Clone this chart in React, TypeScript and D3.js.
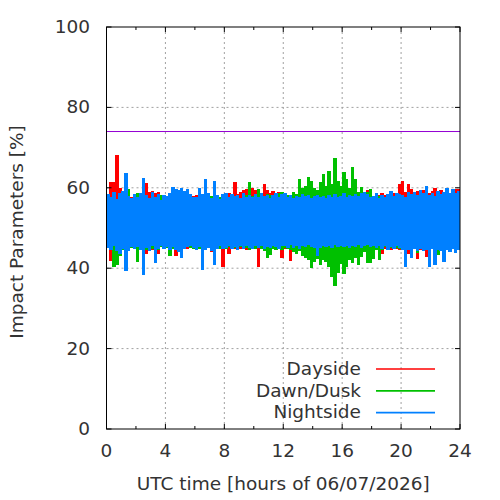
import React from "react";
import * as d3 from "d3";

const xTicks = [0, 4, 8, 12, 16, 20, 24];
const xMinor = [2, 6, 10, 14, 18, 22];
const yTicks = [0, 20, 40, 60, 80, 100];
const threshold = 74;
const binHours = 0.2;

const seriesNames = ["Dayside", "Dawn/Dusk", "Nightside"];
const seriesColors = ["#ff0000", "#00c000", "#0080ff"];

const dayHi = [
  58.0, 61.4, 61.4, 68.2, 60.0, 57.5, 58.2, 57.0, 57.8, 58.5,
  57.6, 58.0, 57.4, 61.3, 59.0, 59.2, 58.8, 59.0, 57.5, 58.2,
  57.0, 58.3, 57.6, 58.0, 57.2, 57.8, 58.4, 57.5, 56.8, 57.9,
  58.2, 57.5, 58.0, 57.4, 58.3, 57.8, 57.2, 58.0, 57.6, 58.5,
  57.9, 58.6, 58.0, 61.5, 58.4, 58.9, 59.5, 59.8, 59.2, 60.0,
  59.4, 59.8, 58.8, 61.0, 59.5, 58.6, 59.2, 58.5, 59.0, 58.2,
  58.0, 57.5, 58.2, 57.8, 58.4, 57.6, 58.0, 58.0, 61.0, 57.6,
  58.0, 57.5, 58.3, 57.8, 58.1, 57.4, 58.0, 57.7, 58.2, 57.6,
  57.9, 58.2, 57.7, 58.4, 58.3, 59.0, 58.5, 58.0, 59.5, 58.4,
  58.0, 57.7, 58.3, 58.8, 58.1, 57.6, 58.2, 58.6, 57.9, 61.0,
  61.6, 59.0, 61.0, 59.8, 58.5, 59.2, 58.8, 59.4, 60.3, 58.7,
  59.2, 60.0, 58.6, 59.4, 58.9, 59.6, 58.8, 59.3, 59.8, 59.8,
];
const dayLo = [
  45.0, 41.9, 43.0, 43.2, 45.0, 44.6, 45.3, 44.8, 45.5, 44.9,
  45.2, 44.7, 45.4, 43.5, 45.0, 44.6, 43.0, 43.5, 45.2, 44.8,
  45.4, 44.9, 45.3, 43.0, 45.1, 44.7, 45.4, 44.9, 45.5, 45.0,
  45.3, 44.8, 45.5, 44.6, 45.2, 44.0, 45.4, 44.9, 45.3, 40.4,
  45.0, 43.6, 45.2, 44.7, 45.3, 44.8, 45.0, 44.6, 45.2, 44.7,
  45.1, 40.2, 45.0, 44.4, 45.2, 44.8, 45.3, 44.6, 45.0, 42.5,
  44.8, 45.2, 41.9, 44.9, 45.3, 44.7, 45.1, 44.6, 45.0, 44.8,
  45.2, 44.9, 45.3, 44.7, 45.1, 44.8, 45.4, 44.6, 45.2, 44.9,
  45.3, 44.8, 45.1, 44.6, 45.2, 44.9, 45.0, 44.7, 42.5, 44.9,
  45.2, 44.7, 45.1, 43.5, 44.9, 45.3, 44.6, 45.0, 44.8, 44.5,
  44.9, 44.6, 43.5, 42.7, 44.8, 42.3, 44.6, 44.9, 42.7, 44.5,
  44.8, 44.0, 44.6, 44.3, 44.9, 44.5, 44.7, 45.0, 44.4, 44.6,
];

const duskHi = [
  58.1, 57.0, 57.6, 56.8, 58.0, 57.4, 57.8, 59.6, 57.2, 57.9,
  58.8, 58.8, 57.5, 58.0, 57.3, 57.8, 57.1, 57.6, 58.2, 57.4,
  57.8, 57.2, 57.9, 57.5, 57.8, 57.3, 58.0, 57.6, 57.1, 57.8,
  57.4, 57.9, 57.2, 57.7, 57.5, 58.0, 57.3, 57.6, 57.8, 57.2,
  57.7, 57.3, 58.0, 57.6, 57.9, 57.4, 57.8, 58.2, 61.4, 57.9,
  58.3, 59.6, 58.0, 57.7, 58.4, 58.1, 57.6, 58.2, 58.8, 59.0,
  57.8, 58.2, 58.1, 59.0, 58.5, 62.2, 60.0, 60.5, 62.6, 61.8,
  60.0, 59.5, 61.4, 63.5, 60.5, 64.3, 61.0, 67.4, 61.8, 60.5,
  63.9, 62.2, 60.0, 65.1, 62.2, 59.0, 60.1, 58.5, 59.0, 59.6,
  58.0, 57.6, 57.9, 57.3, 57.8, 57.5, 58.1, 57.4, 57.9, 57.6,
  57.8, 57.3, 57.9, 57.5, 58.0, 57.6, 57.8, 57.4, 57.9, 58.3,
  57.7, 58.0, 57.5, 57.8, 57.6, 58.1, 57.4, 57.9, 57.6, 57.8,
];
const duskLo = [
  46.8, 44.5, 40.2, 40.8, 43.0, 44.6, 45.2, 44.4, 45.0, 44.7,
  41.6, 44.9, 45.2, 44.6, 45.3, 44.8, 45.0, 44.5, 45.2, 44.9,
  45.1, 43.0, 44.8, 45.3, 44.7, 45.2, 44.9, 45.4, 45.0, 44.8,
  45.3, 44.9, 45.1, 44.6, 45.2, 44.8, 45.3, 45.0, 44.7, 45.2,
  44.9, 45.3, 44.7, 45.1, 44.8, 45.2, 44.9, 45.0, 44.6, 45.2,
  44.8, 45.0, 44.7, 44.4, 42.6, 43.3, 44.8, 44.5, 45.0, 44.6,
  45.0, 44.7, 44.5, 44.0, 43.6, 44.2, 43.0, 42.5, 42.0, 40.0,
  41.6, 42.2, 40.8, 42.0, 41.5, 40.4, 37.9, 35.5, 38.7, 41.0,
  38.5, 40.4, 42.0, 41.2, 42.5, 40.8, 42.9, 44.0, 41.2, 41.2,
  42.4, 44.5, 42.0, 44.6, 45.2, 44.8, 45.0, 44.7, 45.1, 44.8,
  45.0, 44.7, 45.2, 44.9, 45.3, 43.8, 45.0, 44.6, 45.2, 44.9,
  44.8, 45.1, 43.3, 44.7, 45.0, 44.6, 45.2, 44.8, 45.5, 44.9,
];

const nightHi = [
  58.5, 57.8, 59.0, 57.2, 58.6, 59.2, 63.7, 58.0, 57.5, 58.4,
  57.6, 58.8, 62.5, 58.2, 57.4, 58.9, 57.8, 58.5, 57.0, 58.3,
  57.9, 58.6, 60.3, 59.8, 59.5, 60.0, 59.2, 59.7, 58.4, 57.6,
  57.8, 60.0, 58.4, 62.2, 58.6, 57.5, 61.8, 58.2, 57.3, 58.4,
  58.8, 57.6, 58.5, 57.9, 58.2, 57.4, 58.7, 57.8, 58.1, 57.6,
  58.4, 57.7, 58.6, 57.9, 58.3, 57.5, 58.2, 58.8, 57.6, 58.5,
  58.6, 57.8, 58.2, 57.5, 58.0, 57.6, 58.4, 57.9, 58.1, 57.4,
  57.9, 58.3, 57.6, 58.0, 57.5, 58.2, 57.8, 58.4, 57.7, 58.0,
  58.6, 57.8, 58.3, 57.9, 58.5, 58.0, 58.8, 59.0, 58.4, 57.6,
  57.9, 58.6, 57.4, 58.2, 57.8, 58.5, 59.2, 58.0, 58.8, 58.4,
  58.2, 57.8, 58.9, 58.4, 59.0, 58.3, 59.4, 58.6, 60.5, 58.2,
  58.8, 58.0, 59.2, 58.4, 58.9, 60.0, 58.6, 59.6, 58.8, 59.3,
];
const nightLo = [
  45.0, 44.6, 45.5, 44.2, 43.5, 44.8, 39.3, 44.4, 45.2, 44.7,
  45.3, 44.6, 38.4, 45.0, 44.3, 45.4, 41.4, 44.8, 45.6, 44.9,
  45.2, 44.5, 45.3, 44.6, 44.0, 42.5, 44.8, 45.2, 45.6, 45.0,
  44.5, 45.2, 39.6, 44.6, 45.1, 44.2, 40.8, 44.9, 45.4, 44.7,
  45.0, 45.5, 44.8, 45.3, 44.6, 45.4, 44.9, 45.6, 45.1, 44.8,
  45.4, 45.0, 45.6, 44.7, 45.3, 45.0, 45.6, 45.2, 44.9, 45.5,
  45.6, 45.1, 45.7, 45.0, 45.4, 44.9, 45.6, 45.3, 45.8, 45.2,
  45.0, 43.0, 45.0, 45.6, 45.2, 45.5, 45.1, 45.7, 45.3, 45.6,
  45.2, 45.6, 45.0, 45.5, 45.3, 45.8, 45.1, 45.4, 45.7, 45.2,
  45.6, 45.0, 45.4, 44.8, 45.5, 44.6, 45.3, 44.9, 45.4, 45.0,
  44.6, 40.4, 44.5, 42.5, 44.8, 44.3, 44.9, 44.2, 44.6, 40.4,
  44.8, 40.8, 44.5, 44.2, 41.6, 44.6, 44.1, 44.8, 43.8, 44.5,
];

const seriesHi = [dayHi, duskHi, nightHi];
const seriesLo = [dayLo, duskLo, nightLo];

const W = 500;
const H = 500;
const left = 106.5;
const right = 460;
const top = 27;
const bottom = 429;
const font = "'DejaVu Sans', sans-serif";
const fs = 18.5;
const textColor = "#333";

export default function App() {
  const x = d3.scaleLinear().domain([0, 24]).range([left, right]);
  const y = d3.scaleLinear().domain([0, 100]).range([bottom, top]);

  return (
    <svg width={W} height={H} style={{ position: "absolute", left: 0, top: 0, background: "#fff" }}>
      <rect x={0} y={0} width={W} height={H} fill="#fff" />
      {xTicks.slice(1, -1).map((t) => (
        <line key={"gx" + t} x1={x(t)} x2={x(t)} y1={top} y2={bottom}
          stroke="#a0a0a0" strokeWidth={1} strokeDasharray="2,3" />
      ))}
      {yTicks.slice(1, -1).map((t) => (
        <line key={"gy" + t} x1={left} x2={right} y1={y(t)} y2={y(t)}
          stroke="#a0a0a0" strokeWidth={1} strokeDasharray="2,3" />
      ))}
      <line x1={left} x2={right} y1={y(threshold)} y2={y(threshold)} stroke="#9400d3" strokeWidth={1} />
      {seriesHi.map((hi, s) => (
        <g key={"s" + s} fill={seriesColors[s]} shapeRendering="crispEdges">
          {hi.map((h, i) => {
            const lo = seriesLo[s][i];
            const x0 = x(i * binHours);
            const x1 = x((i + 1) * binHours);
            return (
              <rect key={i} x={x0} width={x1 - x0 + 0.4} y={y(h)} height={y(lo) - y(h)} />
            );
          })}
        </g>
      ))}
      <rect x={left} y={top} width={right - left} height={bottom - top} fill="none" stroke="#000" strokeWidth={1} />
      {xTicks.map((t) => (
        <g key={"xt" + t}>
          <line x1={x(t)} x2={x(t)} y1={bottom} y2={bottom - 5} stroke="#000" />
          <line x1={x(t)} x2={x(t)} y1={top} y2={top + 5} stroke="#000" />
          <text x={x(t)} y={457} textAnchor="middle" fontFamily={font} fontSize={fs} fill={textColor}>{t}</text>
        </g>
      ))}
      {xMinor.map((t) => (
        <g key={"xm" + t}>
          <line x1={x(t)} x2={x(t)} y1={bottom} y2={bottom - 3} stroke="#000" />
          <line x1={x(t)} x2={x(t)} y1={top} y2={top + 3} stroke="#000" />
        </g>
      ))}
      {yTicks.map((t) => (
        <g key={"yt" + t}>
          <line x1={left} x2={left + 5} y1={y(t)} y2={y(t)} stroke="#000" />
          <line x1={right} x2={right - 5} y1={y(t)} y2={y(t)} stroke="#000" />
          <text x={90} y={y(t)} dy="0.32em" textAnchor="end" fontFamily={font} fontSize={fs} fill={textColor}>{t}</text>
        </g>
      ))}
      <text x={(left + right) / 2} y={490} textAnchor="middle" fontFamily={font} fontSize={fs} fill={textColor}>
        UTC time [hours of 06/07/2026]
      </text>
      <text transform={`translate(23,232) rotate(-90)`} textAnchor="middle" fontFamily={font} fontSize={fs} fill={textColor}>
        Impact Parameters [%]
      </text>
      {seriesNames.map((n, i) => (
        <g key={"lg" + i}>
          <text x={361} y={375 + i * 21.7} textAnchor="end" fontFamily={font} fontSize={fs} fill={textColor}>{n}</text>
          <line x1={376} x2={435} y1={369 + i * 21.8} y2={369 + i * 21.8} stroke={seriesColors[i]} strokeWidth={1.7} />
        </g>
      ))}
    </svg>
  );
}
